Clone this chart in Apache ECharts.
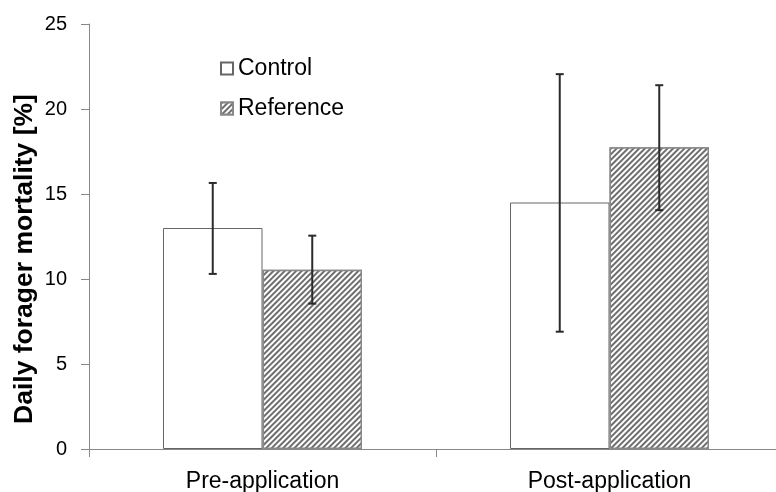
<!DOCTYPE html>
<html>
<head>
<meta charset="utf-8">
<script src="https://cdn.jsdelivr.net/npm/echarts@6/dist/echarts.min.js"></script>
<style>html,body{margin:0;padding:0;background:#fff;}#c{width:776px;height:492px;}</style>
</head>
<body>
<div id="c"></div>
<script>
const categories = ['Pre-application', 'Post-application'];
const seriesNames = ['Control', 'Reference'];
const controlMean = [13.0, 14.5];
const controlLow = [10.3, 6.9];
const controlHigh = [15.65, 22.05];
const referenceMean = [10.55, 17.75];
const referenceLow = [8.55, 14.05];
const referenceHigh = [12.55, 21.4];
const yTicks = [0, 5, 10, 15, 20, 25];
const yTitle = 'Daily forager mortality [%]';

const FONT = 'Liberation Sans, Arial, sans-serif';
const BAR_W = 99.5;

const chart = echarts.init(document.getElementById('c'), null, {renderer: 'canvas'});

function errSeries(low, high, sign) {
  return {
    type: 'custom',
    silent: true,
    z: 10,
    data: categories.map((c, i) => [i, low[i], high[i]]),
    renderItem: function (params, api) {
      const i = api.value(0);
      const lo = api.coord([i, api.value(1)]);
      const hi = api.coord([i, api.value(2)]);
      const x = lo[0] + sign * BAR_W / 2;
      const cap = 4;
      const st = {stroke: '#2b2b2b', lineWidth: 2};
      return {
        type: 'group',
        children: [
          {type: 'line', shape: {x1: x, y1: lo[1], x2: x, y2: hi[1]}, style: st},
          {type: 'line', shape: {x1: x - cap, y1: lo[1], x2: x + cap, y2: lo[1]}, style: st},
          {type: 'line', shape: {x1: x - cap, y1: hi[1], x2: x + cap, y2: hi[1]}, style: st}
        ]
      };
    }
  };
}

chart.setOption({
  animation: false,
  backgroundColor: '#fff',
  textStyle: {fontFamily: FONT},
  grid: {left: 89, top: 24, width: 694, height: 425, containLabel: false, outerBoundsMode: 'none'},
  legend: {
    orient: 'vertical',
    left: 220,
    top: 56.5,
    padding: 0,
    itemWidth: 12,
    itemHeight: 12,
    itemGap: 16,
    icon: 'rect',
    data: seriesNames,
    textStyle: {fontSize: 23, lineHeight: 24, color: '#000', fontFamily: FONT}
  },
  xAxis: {
    type: 'category',
    data: categories,
    boundaryGap: true,
    axisLine: {lineStyle: {color: '#888', width: 1}},
    axisTick: {show: true, length: 8, alignWithLabel: false, lineStyle: {color: '#888'}},
    axisLabel: {fontSize: 23, color: '#000', margin: 21, fontFamily: FONT}
  },
  yAxis: {
    type: 'value',
    min: yTicks[0],
    max: yTicks[yTicks.length - 1],
    interval: yTicks[1] - yTicks[0],
    axisLine: {show: true, lineStyle: {color: '#888', width: 1}},
    axisTick: {show: true, length: 8, lineStyle: {color: '#888'}},
    splitLine: {show: false},
    axisLabel: {fontSize: 20, color: '#000', margin: 22, fontFamily: FONT}
  },
  graphic: [{
    type: 'text',
    x: 25,
    y: 259,
    rotation: Math.PI / 2,
    style: {
      text: yTitle,
      fontSize: 26.5,
      fontWeight: 'bold',
      fontFamily: FONT,
      fill: '#000',
      align: 'center',
      verticalAlign: 'middle'
    }
  }],
  series: [
    {
      name: seriesNames[0],
      type: 'bar',
      data: controlMean,
      barWidth: BAR_W,
      barGap: '0%',
      itemStyle: {color: '#fff', borderColor: '#666', borderWidth: 1}
    },
    {
      name: seriesNames[1],
      type: 'bar',
      data: referenceMean,
      barWidth: BAR_W,
      barGap: '0%',
      itemStyle: {
        color: '#fff',
        borderColor: '#888',
        borderWidth: 1.5,
        decal: {
          symbol: 'rect',
          symbolSize: 1,
          dashArrayX: [1, 0],
          dashArrayY: [1.8, 1.8],
          rotation: -Math.PI / 4,
          color: '#6e6e6e',
          backgroundColor: '#fff'
        }
      }
    },
    errSeries(controlLow, controlHigh, -1),
    errSeries(referenceLow, referenceHigh, 1)
  ]
});
</script>
</body>
</html>
